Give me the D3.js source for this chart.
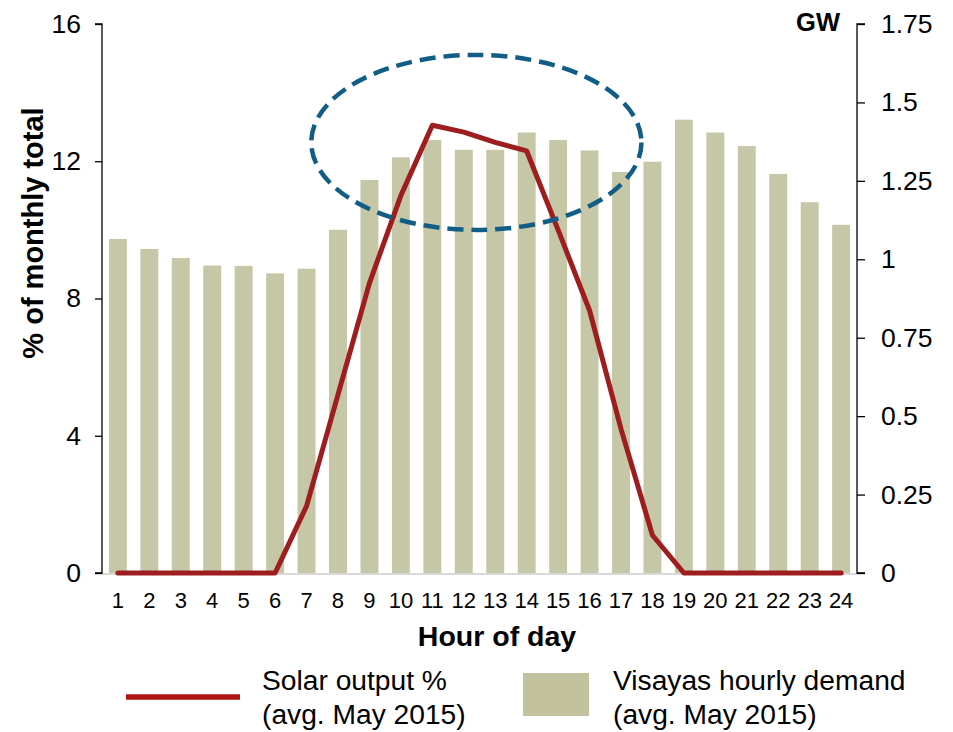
<!DOCTYPE html>
<html>
<head>
<meta charset="utf-8">
<script src="https://cdn.jsdelivr.net/npm/d3@7"></script>
<style>
  html, body { margin: 0; padding: 0; background: #ffffff; }
  svg text { font-family: "Liberation Sans", Arial, sans-serif; fill: #000; }
</style>
</head>
<body>
<div id="chart"></div>
<script>
// ---- data ----
const hours = ["1","2","3","4","5","6","7","8","9","10","11","12","13","14","15","16","17","18","19","20","21","22","23","24"];
const demandGW = [1.065,1.033,1.004,0.980,0.979,0.955,0.970,1.094,1.253,1.325,1.380,1.349,1.349,1.404,1.380,1.347,1.278,1.311,1.445,1.404,1.361,1.272,1.182,1.110];
const solarPct = [0,0,0,0,0,0,1.95,5.2,8.45,11.0,13.05,12.85,12.55,12.3,10.0,7.65,4.2,1.1,0,0,0,0,0,0];
const leftTicks = [0,4,8,12,16];
const rightTicks = [0,0.25,0.5,0.75,1,1.25,1.5,1.75];
const rightTickLabels = ["0","0.25","0.5","0.75","1","1.25","1.5","1.75"];
const legendLabels = [["Solar output %","(avg. May 2015)"],["Visayas hourly demand","(avg. May 2015)"]];
// highlighted region (hour, %) for the dashed ellipse
const highlight = {hour: 12.4, pct: 12.55, rHours: 5.25, rPct: 2.55};

// ---- layout ----
const W = 953, H = 732;
const plot = {left: 102, right: 857, top: 24, bottom: 573};
const barColor = "#c6c7a7";
const lineColor = "#9e1d1f";
const legendLineColor = "#b01414";
const ellipseColor = "#115d86";

const svg = d3.select("#chart").append("svg").attr("width", W).attr("height", H);

const x = d3.scaleBand().domain(hours).range([plot.left, plot.right])
  .paddingInner(0.43).paddingOuter(0.22);
const yL = d3.scaleLinear().domain([0,16]).range([plot.bottom, plot.top]);
const yR = d3.scaleLinear().domain([0,1.75]).range([plot.bottom, plot.top]);
const hourX = h => x(String(1)) + x.bandwidth()/2 + (h-1)*x.step();

// bars
svg.append("g").selectAll("rect").data(demandGW).join("rect")
  .attr("x", (d,i) => x(hours[i]))
  .attr("width", x.bandwidth())
  .attr("y", d => yR(d))
  .attr("height", d => yR(0) - yR(d))
  .attr("fill", barColor);

// baseline
svg.append("line")
  .attr("x1", plot.left).attr("x2", plot.right)
  .attr("y1", yL(0)+1).attr("y2", yL(0)+1)
  .attr("stroke", "#d9d9d9").attr("stroke-width", 2);

// left axis
const axL = svg.append("g").attr("transform", `translate(${plot.left},0)`)
  .call(d3.axisLeft(yL).tickValues(leftTicks).tickSize(7).tickPadding(14).tickFormat(d3.format("d")));
axL.select(".domain").attr("stroke", "#000").attr("stroke-width", 1.3).attr("d", `M-7,${yL(16)}H0V${yL(0)}H-7`);
axL.selectAll(".tick line").attr("stroke", "#000").attr("stroke-width", 1.3);
axL.selectAll(".tick text").attr("font-size", 26.5).attr("fill", "#000").attr("font-family", "Liberation Sans, Arial, sans-serif");

// right axis
const axR = svg.append("g").attr("transform", `translate(${plot.right},0)`)
  .call(d3.axisRight(yR).tickValues(rightTicks).tickSize(8).tickPadding(16)
    .tickFormat((d,i) => rightTickLabels[i]));
axR.select(".domain").attr("stroke", "#000").attr("stroke-width", 1.3).attr("d", `M8,${yR(1.75)}H0V${yR(0)}H8`);
axR.selectAll(".tick line").attr("stroke", "#000").attr("stroke-width", 1.3);
axR.selectAll(".tick text").attr("font-size", 26.5).attr("fill", "#000").attr("font-family", "Liberation Sans, Arial, sans-serif");

// x axis labels
const axX = svg.append("g").attr("transform", `translate(0,${plot.bottom})`)
  .call(d3.axisBottom(x).tickSize(0).tickPadding(19));
axX.select(".domain").remove();
axX.selectAll(".tick text").attr("font-size", 22).attr("fill", "#000").attr("font-family", "Liberation Sans, Arial, sans-serif");

// solar line
const line = d3.line().x((d,i) => x(hours[i]) + x.bandwidth()/2).y(d => yL(d));
svg.append("path").datum(solarPct)
  .attr("d", line)
  .attr("fill", "none").attr("stroke", lineColor).attr("stroke-width", 5)
  .attr("stroke-linejoin", "round").attr("stroke-linecap", "round");

// dashed ellipse
svg.append("ellipse")
  .attr("cx", hourX(highlight.hour))
  .attr("cy", yL(highlight.pct))
  .attr("rx", highlight.rHours * x.step())
  .attr("ry", yL(0) - yL(highlight.rPct))
  .attr("fill", "none").attr("stroke", ellipseColor).attr("stroke-width", 4.5)
  .attr("stroke-dasharray", "16 8");

// axis titles
svg.append("text").attr("transform", `translate(43,233) rotate(-90)`)
  .attr("text-anchor", "middle").attr("font-size", 29).attr("font-weight", "bold")
  .text("% of monthly total");
svg.append("text").attr("x", 840).attr("y", 31).attr("text-anchor", "end")
  .attr("font-size", 25.5).attr("font-weight", "bold").text("GW");
svg.append("text").attr("x", 497).attr("y", 646).attr("text-anchor", "middle")
  .attr("font-size", 28.5).attr("font-weight", "bold").text("Hour of day");

// legend
const lg = svg.append("g");
lg.append("line").attr("x1", 126).attr("x2", 240).attr("y1", 697).attr("y2", 697)
  .attr("stroke", legendLineColor).attr("stroke-width", 5.5);
lg.append("rect").attr("x", 523).attr("y", 673).attr("width", 66).attr("height", 43)
  .attr("fill", "#c2c29e");
[262, 613].forEach((lx, k) => {
  const t = lg.append("text").attr("x", lx).attr("y", 690).attr("font-size", 28.2);
  t.append("tspan").attr("x", lx).attr("y", 690).text(legendLabels[k][0]);
  t.append("tspan").attr("x", lx).attr("y", 724).text(legendLabels[k][1]);
});
</script>
</body>
</html>
